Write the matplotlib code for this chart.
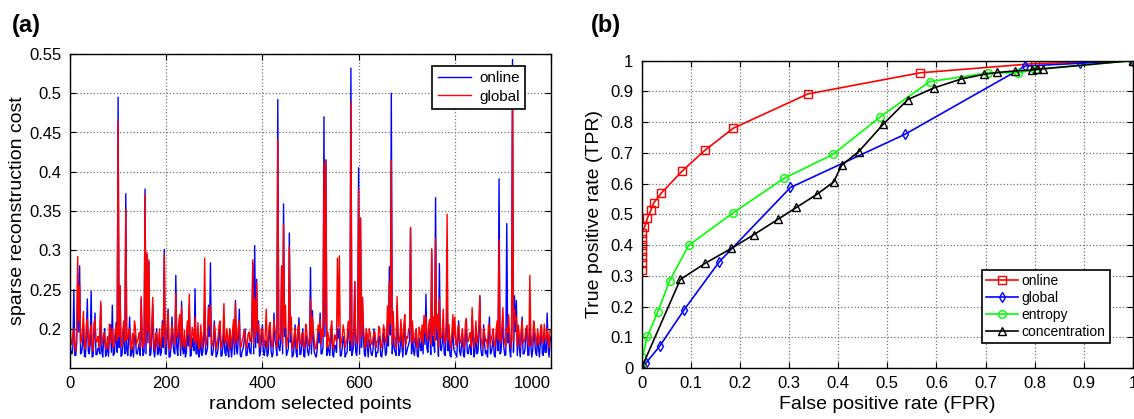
import matplotlib
matplotlib.use('Agg')
import matplotlib.pyplot as plt
import numpy as np

plt.rcParams['font.family'] = ['Liberation Sans', 'DejaVu Sans']

# (a) sparse reconstruction cost, one value every 2 points (x 0..1000), in 1/1000
online_cost = [
    185, 170, 168, 176, 250, 166, 166, 182, 270, 196, 280, 168, 170, 178, 205, 165, 164, 188, 238, 172,
    168, 180, 248, 164, 165, 190, 220, 167, 167, 175, 175, 168, 230, 172, 164, 186, 200, 165, 170, 178,
    165, 192, 205, 170, 230, 166, 168, 183, 208, 170, 495, 176, 255, 165, 166, 180, 200, 168, 372, 174,
    166, 186, 215, 165, 170, 177, 164, 192, 190, 168, 168, 175, 182, 166, 238, 180, 166, 171, 378, 168,
    295, 182, 285, 166, 168, 190, 230, 172, 164, 179, 200, 167, 170, 185, 166, 170, 210, 176, 301, 168,
    168, 188, 225, 164, 164, 176, 215, 182, 170, 168, 268, 177, 166, 192, 205, 166, 235, 174, 168, 183,
    164, 170, 205, 178, 230, 165, 166, 188, 178, 172, 251, 168, 168, 195, 164, 170, 195, 166, 170, 184,
    230, 167, 170, 176, 230, 190, 284, 168, 166, 174, 210, 182, 164, 168, 175, 191, 200, 165, 166, 178,
    200, 170, 166, 186, 172, 164, 195, 176, 164, 182, 205, 167, 236, 175, 168, 189, 225, 166, 164, 172,
    175, 184, 200, 166, 166, 178, 182, 170, 168, 193, 284, 168, 306, 176, 263, 182, 210, 165, 170, 187,
    205, 170, 166, 179, 185, 165, 168, 190, 200, 172, 164, 168, 220, 185, 180, 166, 492, 176, 172, 182,
    280, 168, 359, 190, 200, 166, 170, 175, 322, 183, 190, 164, 166, 178, 205, 170, 164, 188, 214, 167,
    168, 180, 200, 165, 164, 192, 185, 171, 166, 176, 278, 168, 223, 185, 170, 166, 164, 174, 200, 182,
    220, 168, 168, 177, 470, 190, 415, 166, 180, 172, 166, 184, 205, 167, 164, 179, 178, 170, 200, 188,
    200, 165, 166, 176, 190, 182, 164, 168, 170, 194, 200, 172, 532, 166, 172, 180, 260, 170, 166, 185,
    405, 168, 341, 176, 240, 190, 168, 165, 195, 178, 164, 186, 180, 168, 166, 174, 200, 182, 164, 170,
    170, 189, 190, 166, 164, 175, 195, 183, 166, 170, 210, 178, 279, 192, 500, 168, 200, 175, 170, 166,
    230, 184, 166, 171, 200, 178, 164, 190, 210, 167, 170, 176, 180, 185, 329, 168, 200, 173, 166, 181,
    195, 166, 164, 188, 178, 172, 200, 168, 210, 180, 244, 175, 170, 193, 200, 167, 297, 178, 190, 170,
    367, 186, 200, 165, 283, 176, 172, 183, 210, 168, 166, 190, 230, 172, 190, 166, 164, 181, 200, 174,
    170, 168, 164, 186, 210, 171, 166, 178, 190, 166, 164, 192, 200, 170, 168, 177, 180, 167, 215, 184,
    164, 172, 200, 168, 170, 189, 242, 175, 166, 166, 205, 180, 168, 172, 164, 191, 215, 168, 170, 178,
    190, 166, 164, 185, 200, 172, 391, 168, 170, 190, 205, 176, 166, 167, 334, 182, 200, 174, 164, 188,
    543, 170, 242, 196, 236, 166, 200, 178, 164, 185, 215, 168, 168, 174, 200, 190, 166, 167, 210, 180,
    164, 172, 200, 186, 170, 166, 190, 175, 164, 183, 205, 168, 166, 192, 170, 170, 220, 176, 164, 184,
    190,
]
global_cost = [
    205, 184, 180, 192, 200, 176, 172, 196, 292, 210, 255, 182, 188, 200, 222, 178, 174, 205, 212, 186,
    178, 198, 205, 175, 172, 208, 212, 183, 184, 190, 176, 202, 235, 180, 186, 194, 195, 174, 178, 190,
    174, 206, 200, 182, 200, 176, 183, 197, 203, 185, 464, 190, 255, 178, 178, 200, 210, 184, 352, 186,
    188, 198, 200, 174, 180, 194, 174, 210, 202, 180, 184, 188, 195, 176, 241, 196, 176, 185, 371, 180,
    297, 196, 288, 176, 180, 204, 240, 186, 172, 194, 195, 178, 184, 200, 176, 183, 205, 190, 295, 178,
    183, 202, 222, 175, 174, 190, 205, 196, 181, 180, 245, 192, 188, 206, 218, 176, 228, 188, 178, 198,
    176, 184, 210, 193, 244, 175, 182, 202, 192, 185, 215, 180, 184, 208, 174, 182, 205, 176, 186, 198,
    290, 178, 184, 192, 228, 204, 230, 180, 178, 188, 205, 196, 174, 180, 190, 205, 210, 176, 180, 192,
    232, 183, 182, 200, 188, 174, 200, 190, 176, 197, 212, 180, 233, 188, 184, 203, 210, 177, 177, 186,
    190, 198, 195, 176, 180, 192, 196, 184, 184, 206, 288, 180, 239, 190, 259, 196, 205, 176, 186, 200,
    200, 183, 178, 194, 225, 176, 184, 204, 208, 186, 176, 182, 212, 198, 195, 177, 441, 190, 186, 196,
    280, 180, 333, 202, 230, 176, 188, 188, 305, 196, 215, 175, 176, 192, 200, 184, 174, 203, 205, 180,
    182, 194, 195, 176, 176, 206, 198, 184, 178, 190, 238, 180, 215, 198, 184, 176, 174, 188, 205, 196,
    212, 180, 200, 190, 411, 204, 415, 176, 196, 186, 178, 198, 210, 180, 174, 192, 190, 184, 290, 202,
    293, 176, 184, 190, 205, 196, 176, 182, 188, 208, 210, 185, 489, 178, 195, 194, 260, 182, 182, 199,
    377, 180, 341, 190, 240, 204, 186, 176, 200, 192, 176, 200, 195, 182, 180, 188, 195, 196, 176, 184,
    184, 203, 200, 176, 176, 190, 205, 197, 183, 182, 229, 192, 260, 206, 415, 180, 222, 188, 188, 176,
    241, 198, 183, 184, 212, 192, 176, 204, 218, 180, 190, 188, 200, 199, 329, 182, 210, 186, 182, 195,
    200, 176, 178, 202, 195, 185, 205, 180, 217, 194, 215, 188, 186, 207, 212, 180, 302, 192, 215, 184,
    315, 200, 218, 176, 238, 190, 188, 197, 225, 182, 182, 204, 346, 186, 205, 178, 176, 195, 218, 188,
    215, 180, 178, 200, 205, 184, 182, 192, 200, 178, 176, 206, 213, 184, 184, 190, 195, 177, 227, 198,
    176, 186, 210, 182, 188, 203, 242, 188, 182, 176, 200, 194, 184, 186, 176, 205, 205, 180, 188, 192,
    200, 178, 178, 199, 210, 186, 314, 182, 184, 204, 227, 190, 182, 178, 200, 196, 218, 188, 176, 202,
    490, 184, 225, 210, 215, 178, 205, 192, 176, 199, 210, 182, 184, 188, 200, 204, 182, 178, 268, 194,
    178, 186, 210, 200, 188, 178, 200, 190, 180, 197, 205, 182, 184, 206, 188, 184, 200, 190, 176, 198,
    199,
]

# (b) ROC curves
fpr_online = [0, 0, 0, 0, 0, 0, 0, 0, 0.006, 0.012, 0.019, 0.025, 0.040, 0.083, 0.129, 0.187, 0.338, 0.567, 0.80, 1.0]
tpr_online = [0, 0.32, 0.34, 0.36, 0.38, 0.40, 0.42, 0.44, 0.457, 0.487, 0.513, 0.537, 0.568, 0.641, 0.708, 0.780, 0.891, 0.960, 0.990, 1.0]
fpr_global = [0, 0.009, 0.037, 0.087, 0.158, 0.303, 0.536, 0.781, 0.892, 1.0]
tpr_global = [0, 0.016, 0.071, 0.190, 0.345, 0.587, 0.760, 0.982, 0.991, 1.0]
fpr_entropy = [0, 0.002, 0.012, 0.033, 0.057, 0.096, 0.186, 0.290, 0.390, 0.486, 0.586, 0.706, 0.767, 0.80, 1.0]
tpr_entropy = [0, 0.036, 0.103, 0.182, 0.283, 0.399, 0.504, 0.617, 0.695, 0.817, 0.931, 0.960, 0.960, 0.970, 1.0]
fpr_conc = [0, 0.079, 0.129, 0.183, 0.228, 0.278, 0.315, 0.357, 0.391, 0.407, 0.442, 0.492, 0.542, 0.595,
            0.651, 0.697, 0.724, 0.760, 0.794, 0.804, 0.816, 1.0]
tpr_conc = [0, 0.288, 0.340, 0.389, 0.433, 0.484, 0.522, 0.565, 0.605, 0.659, 0.704, 0.793, 0.873, 0.911,
            0.940, 0.955, 0.961, 0.966, 0.969, 0.971, 0.973, 1.0]

fig = plt.figure(figsize=(11.34, 4.19), dpi=100)
ax1 = fig.add_axes([70 / 1134, 51 / 419, 481 / 1134, 314 / 419])
ax2 = fig.add_axes([641.5 / 1134, 51 / 419, 491.5 / 1134, 307.5 / 419])


def matlab_style(ax):
    ax.grid(True, linestyle=':', color='0.45', linewidth=0.9)
    ax.set_axisbelow(True)
    ax.tick_params(direction='in', top=True, right=True, length=4, width=0.8, labelsize=12, pad=6)
    for s in ax.spines.values():
        s.set_linewidth(1.0)
        s.set_color('black')


# left panel
xs = np.arange(0, 1001, 2)
ax1.plot(xs, np.array(online_cost) / 1000, color='blue', lw=1.0, label='online')
ax1.plot(xs, np.array(global_cost) / 1000, color='red', lw=1.0, label='global')
ax1.set_xlim(0, 1000)
ax1.set_ylim(0.15, 0.55)
ax1.set_xticks([0, 200, 400, 600, 800, 1000])
ax1.set_yticks([0.2, 0.25, 0.3, 0.35, 0.4, 0.45, 0.5, 0.55])
ax1.set_yticklabels(['0.2', '0.25', '0.3', '0.35', '0.4', '0.45', '0.5', '0.55'])
matlab_style(ax1)
ax1.get_xticklabels()[-1].set_horizontalalignment('right')
ax1.set_xlabel('random selected points', fontsize=14)
ax1.set_ylabel('sparse reconstruction cost', fontsize=14)
ax1.xaxis.set_label_coords(0.5, -0.088)
ax1.yaxis.set_label_coords(-0.092, 0.5)
leg1 = ax1.legend(loc='upper right', bbox_to_anchor=(0.946, 0.963), borderaxespad=0, fontsize=11,
                  handlelength=2.2, handletextpad=0.5, fancybox=False, framealpha=1, edgecolor='black',
                  borderpad=0.35, labelspacing=0.3)
leg1.get_frame().set_linewidth(1.2)

# right panel
ax2.plot(fpr_online, tpr_online, color='red', lw=1.2, marker='s', ms=5.5, mfc='none', mew=1.0, label='online')
ax2.plot(fpr_global, tpr_global, color='blue', lw=1.2, marker='d', ms=5.5, mfc='none', mew=1.0, label='global')
ax2.plot(fpr_entropy, tpr_entropy, color='#00ff00', lw=1.2, marker='o', ms=5.5, mfc='none', mew=1.0, label='entropy')
ax2.plot(fpr_conc, tpr_conc, color='black', lw=1.2, marker='^', ms=6, mfc='none', mew=1.0, label='concentration')
ax2.set_xlim(0, 1)
ax2.set_ylim(0, 1)
ticks = [0, 0.1, 0.2, 0.3, 0.4, 0.5, 0.6, 0.7, 0.8, 0.9, 1]
tick_labels = ['0', '0.1', '0.2', '0.3', '0.4', '0.5', '0.6', '0.7', '0.8', '0.9', '1']
ax2.set_xticks(ticks)
ax2.set_xticklabels(tick_labels)
ax2.set_yticks(ticks)
ax2.set_yticklabels(tick_labels)
matlab_style(ax2)
ax2.set_xlabel('False positive rate (FPR)', fontsize=14)
ax2.set_ylabel('True positive rate (TPR)', fontsize=14)
ax2.xaxis.set_label_coords(0.5, -0.09)
ax2.yaxis.set_label_coords(-0.078, 0.5)
leg2 = ax2.legend(loc='lower right', bbox_to_anchor=(0.953, 0.081), borderaxespad=0, fontsize=10,
                  handlelength=2.3, fancybox=False, framealpha=1, edgecolor='black', borderpad=0.3,
                  labelspacing=0.22, handletextpad=0.3)
leg2.get_frame().set_linewidth(1.2)

fig.text(12 / 1134, 0.94, '(a)', fontsize=17, fontweight='bold', va='center', ha='left')
fig.text(591 / 1134, 0.94, '(b)', fontsize=17, fontweight='bold', va='center', ha='left')

fig.savefig('out.png', dpi=100)
